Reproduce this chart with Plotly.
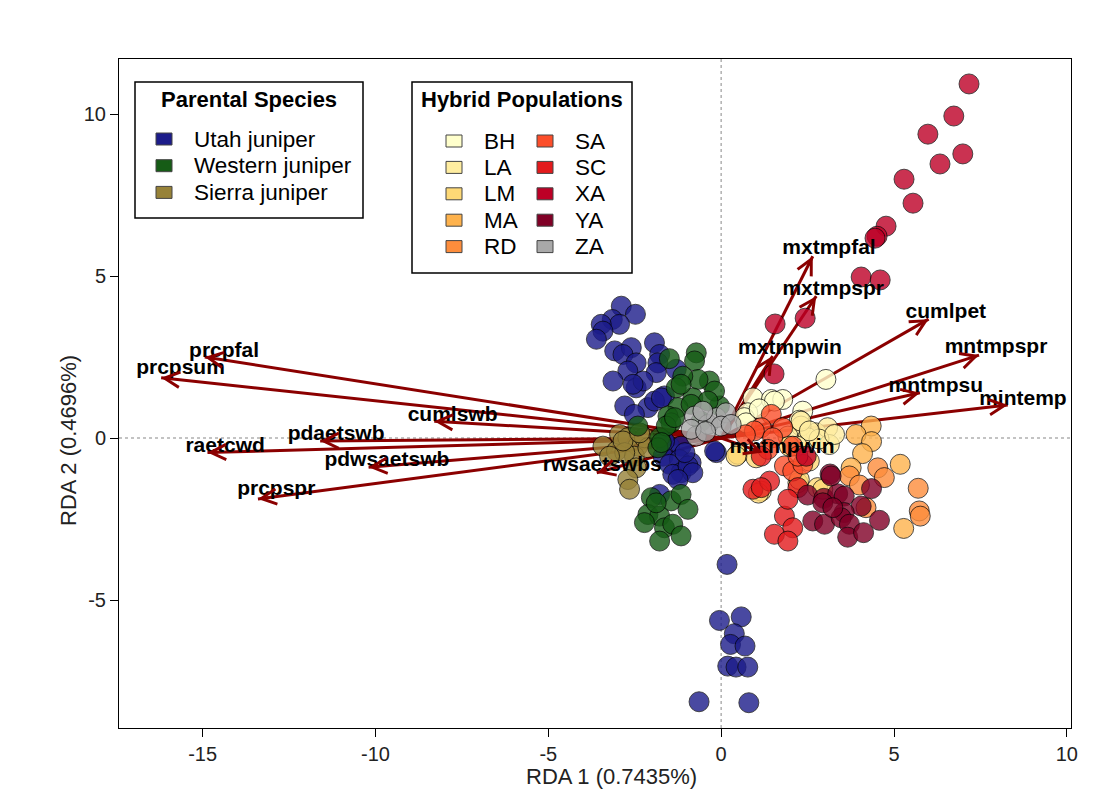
import math
import plotly.graph_objects as go

# ------------------------------------------------------------------ data
# Parental species
utah_x = [-2.89, -2.48, -3.15, -2.94, -3.47, -3.42, -3.61, -1.93, -3.08, -2.60, -2.84, -1.78,
          -2.46, -1.83, -2.70, -1.88, -1.30, -3.13, -2.46, -2.26, -1.64, -2.79, -2.12, -1.93,
          -2.55, -1.73, -2.51,
          -1.49, -1.68, -1.16, -1.21, -1.49, -0.87, -1.16, -1.40, -0.96, -0.82, -1.25, -0.14,
          -1.78, -0.19, -1.64, -1.05,
          0.17, -0.05, 0.58, 0.38, 0.27, 0.69, 0.19, 0.43, 0.77, -0.64, 0.80]
utah_y = [4.07, 3.82, 3.66, 3.51, 3.51, 3.30, 3.05, 2.94, 2.69, 2.79, 2.58, 2.58,
          2.32, 2.32, 2.07, 2.02, 2.12, 1.76, 1.55, 1.76, 1.30, 0.99, 0.94, 1.14,
          1.66, 1.24, 0.73,
          -0.25, -0.56, -0.25, -0.66, -0.81, -0.76, -1.07, -1.12, -0.86, -1.07, -1.28, -0.45,
          -1.74, -0.40, -0.10, -0.45,
          -3.90, -5.63, -5.52, -6.04, -6.37, -6.42, -7.04, -7.07, -7.07, -8.14, -8.17]

western_x = [-0.72, -0.77, -0.34, -0.67, -1.11, -1.30, -0.82, -0.05, -1.25, -1.54, -1.45, -2.41,
             -1.78, -1.83, -0.58, -1.16, -0.19, -0.38, -0.87, -1.59, -1.73, -1.35, -1.50,
             -2.02, -1.45, -1.16, -0.96, -2.12, -1.78, -2.22, -1.64, -1.40, -1.78, -1.16, -1.88]
western_y = [2.63, 2.38, 1.76, 1.81, 1.91, 1.55, 1.24, 0.99, 0.94, 0.68, 0.47, 0.37,
             0.01, -0.30, 0.52, 1.66, 1.45, 1.14, 1.04, 0.37, -0.14, 0.63, 2.45,
             -1.84, -1.94, -1.74, -2.20, -2.36, -2.41, -2.61, -2.77, -2.66, -3.18, -3.02, -2.00]

sierra_x = [-3.42, -3.03, -2.94, -2.70, -2.41, -2.22, -2.51, -2.79, -3.23, -2.46, -2.70, -2.65,
            -2.12, -2.84, -2.36]
sierra_y = [-0.25, -0.40, 0.11, 0.01, -0.25, 0.01, -0.56, -0.45, -0.56, -0.92, -1.28, -1.58,
            -0.30, -0.09, 0.16]

# Hybrid populations
bh_x = [0.92, 1.45, 1.78, 2.36, 0.77, 1.54, 0.67, 0.72, 3.03, 2.26, 1.10]
bh_y = [1.24, 1.19, 1.19, 0.83, 0.78, 1.14, 0.63, 0.47, 1.81, 0.55, 0.90]
la_x = [2.75, 3.08, 3.13, 2.31, 2.50, 1.93, 2.83, 2.31, 2.55, 3.28, 2.20]
la_y = [0.16, 0.32, -0.20, 0.37, 0.01, 0.06, -0.03, 0.52, 0.22, 0.11, -0.25]
lm_x = [0.48, 1.01, 1.97, 2.22, 0.43, 1.16, 2.26, 2.55, 2.79, 2.94, 1.08]
lm_y = [-0.50, -0.61, -0.25, -1.38, -0.56, -1.64, -1.28, -0.71, -1.53, -1.58, -1.70]
ma_x = [4.34, 3.90, 4.35, 4.09, 5.18, 5.28, 3.76]
ma_y = [0.37, 0.11, -0.11, -0.48, -0.81, -2.79, -0.92]
rd_x = [4.53, 4.72, 3.71, 4.00, 5.70, 5.73, 5.76, 4.19]
rd_y = [-0.92, -1.22, -1.17, -1.45, -1.55, -2.25, -2.41, -2.15]
sa_x = [1.45, 1.16, 0.96, 1.78, 1.49, 2.07, 1.83, 2.07, 2.36, 1.35, 2.22, 0.70]
sa_y = [0.73, 0.32, 0.22, 0.32, 0.01, -0.25, -0.86, -1.02, -0.81, -0.35, -0.56, 0.10]
sc_x = [0.92, 1.40, 1.16, 1.83, 2.07, 1.54, 1.93, 2.22, 1.16, 1.93]
sc_y = [-1.58, -1.33, -1.53, -2.41, -2.77, -2.97, -3.18, -1.53, -0.56, -1.89]
xa_x = [7.17, 6.73, 5.98, 6.99, 6.33, 5.29, 5.55, 4.77, 4.51, 4.45, 4.05, 4.60, 1.56, 2.43, 1.53, 2.46]
xa_y = [10.93, 9.94, 9.38, 8.77, 8.46, 7.99, 7.25, 6.54, 6.23, 6.17, 4.97, 4.88, 3.52, 3.70, 1.98, -0.56]
ya_x = [3.15, 4.35, 2.50, 2.97, 3.37, 3.56, 4.05, 3.56, 2.65, 2.99, 3.47, 3.71, 4.58, 3.66,
        4.12, 2.94, 3.23, 3.18]
ya_y = [-1.11, -1.56, -1.76, -1.86, -1.72, -1.79, -2.10, -2.30, -2.56, -2.66, -2.46, -2.66,
        -2.54, -3.06, -2.92, -2.00, -2.15, -1.17]
za_x = [-0.77, -0.72, -0.38, -0.14, 0.14, 0.00, -0.87, -0.53, 0.29, -0.45]
za_y = [0.68, 0.06, 0.42, 0.63, 0.78, 0.37, 0.27, 0.83, 0.42, 0.20]

# Environmental vectors (arrow tips) and label positions
arrow_names = ["mxtmpfal", "mxtmpspr", "mxtmpwin", "cumlpet", "mntmpspr", "mntmpsu",
               "mintemp", "mntmpwin", "prcpfal", "prcpsum", "cumlswb", "pdaetswb",
               "raetcwd", "pdwsaetswb", "prcpspr", "rwsaetswbs"]
arrow_x = [2.65, 2.75, 1.49, 6.00, 7.46, 5.75, 8.29, 1.20, -14.94, -16.20, -8.30, -11.60,
           -14.86, -10.20, -13.40, -3.60]
arrow_y = [5.61, 4.38, 2.53, 3.67, 2.56, 1.40, 1.02, -0.45, 2.50, 1.86, 0.52, -0.09,
           -0.45, -0.90, -1.88, -1.07]
label_x = [3.12, 3.24, 1.99, 6.50, 7.95, 6.21, 8.73, 1.76, -14.38, -15.64, -7.77, -11.14,
           -14.35, -9.67, -12.87, -3.44]
label_y = [5.83, 4.57, 2.75, 3.86, 2.78, 1.57, 1.17, -0.31, 2.66, 2.13, 0.68, 0.09,
           -0.28, -0.71, -1.60, -0.86]

x_ticks = [-15, -10, -5, 0, 5, 10]
x_tick_text = ["-15", "-10", "-5", "0", "5", "10"]
y_ticks = [-5, 0, 5, 10]
y_tick_text = ["-5", "0", "5", "10"]

parental_names = ["Utah juniper", "Western juniper", "Sierra juniper"]
hybrid_names = ["BH", "LA", "LM", "MA", "RD", "SA", "SC", "XA", "YA", "ZA"]

# ------------------------------------------------------------------ style
FONT = "Liberation Sans, Arial, Helvetica, sans-serif"
C_UTAH, C_WEST, C_SIER = "#1c1c8a", "#165c16", "#978238"
HYB_COLORS = ["#FFFFCC", "#FFEDA0", "#FED976", "#FEB24C", "#FD8D3C",
              "#FC4E2A", "#E31A1C", "#BD0026", "#800026", "#A9A9A9"]
ARROW_C = "#8B0000"
W, H = 1100, 800
SHIFT = 7                      # page offset of the plot div inside the window
BOX_L, BOX_R, BOX_T, BOX_B = 118, 1070, 58, 727   # target plot box on screen
ML, MT = BOX_L - SHIFT, BOX_T - SHIFT
PW, PH = BOX_R - BOX_L, BOX_B - BOX_T
MR, MB = W - ML - PW, H - MT - PH
X_RANGE = [-17.42, 10.12]
Y_RANGE = [-8.95, 11.70]

fig = go.Figure()

# arrow shafts (under the points)
for tx, ty in zip(arrow_x, arrow_y):
    fig.add_trace(go.Scatter(x=[0, tx], y=[0, ty], mode="lines",
                             line=dict(color=ARROW_C, width=3),
                             hoverinfo="skip", showlegend=False))


def pts(xs, ys, color, name):
    fig.add_trace(go.Scatter(
        x=xs, y=ys, mode="markers", name=name, showlegend=False,
        marker=dict(size=20, color=color, opacity=0.8,
                    line=dict(color="rgba(0,0,0,0.85)", width=1))))


pts(sierra_x, sierra_y, C_SIER, "Sierra juniper")
pts(utah_x, utah_y, C_UTAH, "Utah juniper")
pts(western_x, western_y, C_WEST, "Western juniper")
hyb_x = [bh_x, la_x, lm_x, ma_x, rd_x, sa_x, sc_x, xa_x, ya_x, za_x]
hyb_y = [bh_y, la_y, lm_y, ma_y, rd_y, sa_y, sc_y, xa_y, ya_y, za_y]
for xs, ys, c, n in zip(hyb_x, hyb_y, HYB_COLORS, hybrid_names):
    pts(xs, ys, c, n)

# vector labels
fig.add_trace(go.Scatter(x=label_x, y=label_y, mode="text", text=arrow_names,
                         textposition="middle center",
                         textfont=dict(family=FONT, size=21, color="black", weight="bold"),
                         hoverinfo="skip", showlegend=False))

# arrow heads
sx = PW / (X_RANGE[1] - X_RANGE[0])
sy = PH / (Y_RANGE[1] - Y_RANGE[0])
for tx, ty in zip(arrow_x, arrow_y):
    px, py = tx * sx, -ty * sy
    n = math.hypot(px, py)
    L = 12
    fig.add_annotation(x=tx, y=ty, xref="x", yref="y", text="", showarrow=True,
                       ax=-px / n * L, ay=-py / n * L, arrowhead=5, arrowsize=1.2,
                       arrowwidth=2.5, arrowcolor=ARROW_C, standoff=0)

# dotted zero lines
fig.add_shape(type="line", xref="x", yref="paper", x0=0, x1=0, y0=0, y1=1, layer="below",
              line=dict(color="#b0b0b0", width=1.5, dash="dot"))
fig.add_shape(type="line", xref="paper", yref="y", x0=0, x1=1, y0=0, y1=0, layer="below",
              line=dict(color="#b0b0b0", width=1.5, dash="dot"))


# ---------------------------------------------------------------- legends
def pxp(px, py):
    return (px - BOX_L) / PW, (BOX_B - py) / PH


def box(x0, y0, x1, y1):
    a, b = pxp(x0, y1)
    c, d = pxp(x1, y0)
    fig.add_shape(type="rect", xref="paper", yref="paper", x0=a, y0=b, x1=c, y1=d,
                  line=dict(color="black", width=1.5), fillcolor="white", layer="above")


def swatch(cx, cy, color):
    a, b = pxp(cx - 8, cy + 6)
    c, d = pxp(cx + 8, cy - 6)
    fig.add_shape(type="rect", xref="paper", yref="paper", x0=a, y0=b, x1=c, y1=d,
                  line=dict(color="#444444", width=1), fillcolor=color, layer="above")


def text(px, py, s, size=20, bold=False, anchor="left"):
    a, b = pxp(px, py)
    fig.add_annotation(xref="paper", yref="paper", x=a, y=b, text=s, showarrow=False,
                       xanchor=anchor, yanchor="middle",
                       font=dict(family=FONT, size=size, color="black",
                                 weight="bold" if bold else "normal"))


box(134, 81, 362, 217)
text(248, 98, "Parental Species", 22, True, "center")
for i, (nm, c) in enumerate(zip(parental_names, [C_UTAH, C_WEST, C_SIER])):
    yy = 138 + i * 26.7
    swatch(163, yy, c)
    text(191, yy, nm, 22.5)

box(411, 81, 631, 272)
text(521, 98, "Hybrid Populations", 22, True, "center")
for i, (nm, c) in enumerate(zip(hybrid_names, HYB_COLORS)):
    col, row = divmod(i, 5)
    yy = 140 + row * 26.4
    sxp = 453 if col == 0 else 544
    swatch(sxp, yy, c)
    text(sxp + 28, yy, nm, 22.5)

# axis titles
a, b = pxp(610, 775)
fig.add_annotation(xref="paper", yref="paper", x=a, y=b, text="RDA 1 (0.7435%)",
                   showarrow=False, xanchor="center", yanchor="middle",
                   font=dict(family=FONT, size=22, color="#222222"))
a, b = pxp(68, 440)
fig.add_annotation(xref="paper", yref="paper", x=a, y=b, text="RDA 2 (0.4696%)",
                   showarrow=False, xanchor="center", yanchor="middle", textangle=-90,
                   font=dict(family=FONT, size=22, color="#222222"))

axis_common = dict(showgrid=False, zeroline=False, showline=True, mirror=True,
                   linecolor="black", linewidth=1, ticks="outside", ticklen=8,
                   tickcolor="black", tickfont=dict(family=FONT, size=20, color="#222222"))
fig.update_xaxes(range=X_RANGE, tickvals=x_ticks, ticktext=x_tick_text, **axis_common)
fig.update_yaxes(range=Y_RANGE, tickvals=y_ticks, ticktext=y_tick_text, **axis_common)

fig.update_layout(width=W, height=H, margin=dict(l=ML, r=MR, t=MT, b=MB),
                  plot_bgcolor="white", paper_bgcolor="white",
                  font=dict(family=FONT), showlegend=False)

fig.write_html("out.html")
